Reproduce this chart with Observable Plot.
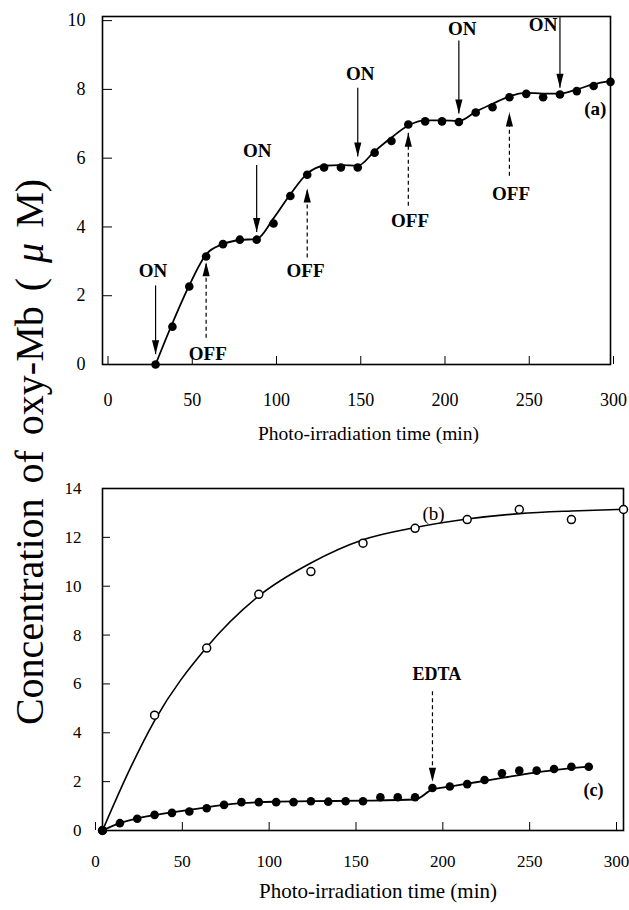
<!DOCTYPE html>
<html><head><meta charset="utf-8">
<script src="https://cdn.jsdelivr.net/npm/d3@7"></script>
<script src="https://cdn.jsdelivr.net/npm/@observablehq/plot@0.6"></script>
<style>
body{margin:0;background:#fff;}
#wrap{position:relative;width:629px;height:910px;font-family:"Liberation Serif",serif;color:#000;}
#topPanel{position:absolute;left:0;top:0;}
#botPanel{position:absolute;left:0;top:450px;}
#ylab{position:absolute;left:29px;top:452px;transform:translate(-50%,-50%) rotate(-90deg);white-space:nowrap;font-size:40px;word-spacing:5px;}
</style></head>
<body><div id="wrap"><div id="topPanel"></div><div id="botPanel"></div><div id="ylab">Concentration of oxy-Mb ( <i>μ</i> M)</div></div>
<script>
// ---------- Panel (a) data ----------
const aTime = [30,40,50,60,70,80,90,100,110,120,130,140,150,160,170,180,190,200,210,220,230,240,250,260,270,280,290,300];
const aConc = [0,1.1,2.27,3.14,3.5,3.63,3.63,4.1,4.9,5.52,5.73,5.73,5.73,6.16,6.5,6.98,7.07,7.07,7.05,7.33,7.48,7.77,7.87,7.77,7.85,7.95,8.1,8.22];
const aFitTime = [30,40,50,60,70,80,90,100,110,120,130,140,150,160,170,180,190,200,210,220,230,240,250,260,270,280,290,300];
const aFitConc = [0,1.2,2.3,3.2,3.5,3.62,3.65,4.25,4.95,5.55,5.78,5.8,5.78,6.2,6.6,6.95,7.1,7.1,7.08,7.35,7.58,7.8,7.9,7.88,7.88,8.0,8.15,8.25];
// ON (light on) and OFF (light off) annotations
const onTime = [30,90,150,210,270];
const onFrom = [2.3,5.8,8.05,9.42,10.1];
const onTo = [0.3,3.85,6.05,7.3,8.05];
const onLabelX = [28.5,90.3,151.5,212,260];
const onLabelY = [2.73,6.22,8.46,9.77,9.88];
const offTime = [60,120,180,240];
const offFrom = [0.78,3.11,4.62,5.49];
const offTo = [2.97,5.12,6.74,7.33];
const offLabelX = [61,119,181,241];
const offLabelY = [0.32,2.73,4.19,4.97];
const aTicksX = [0,50,100,150,200,250,300];
const aTicksY = [0,2,4,6,8,10];

// ---------- Panel (b)/(c) data ----------
const bTime = [0,30,60,90,120,150,180,210,240,270,300];
const bConc = [0,4.72,7.47,9.67,10.6,11.76,12.37,12.73,13.14,12.73,13.14];
const bFitTime = [0,15,30,60,90,120,150,180,210,240,270,300];
const bFitConc = [0,2.4,4.5,7.5,9.6,10.95,11.9,12.4,12.75,12.97,13.08,13.15];
const cTime = [0,10,20,30,40,50,60,70,80,90,100,110,120,130,140,150,160,170,180,190,200,210,220,230,240,250,260,270,280];
const cConc = [0,0.3,0.48,0.64,0.72,0.78,0.91,1.05,1.16,1.16,1.16,1.16,1.2,1.18,1.2,1.2,1.36,1.36,1.36,1.74,1.8,1.9,2.07,2.34,2.45,2.45,2.52,2.61,2.61];
const cFitTime = [0,10,20,30,40,50,60,70,80,90,100,120,150,180,190,200,210,220,230,240,250,260,270,280];
const cFitConc = [0,0.3,0.5,0.63,0.74,0.84,0.95,1.05,1.12,1.16,1.18,1.2,1.22,1.27,1.68,1.8,1.92,2.03,2.15,2.27,2.38,2.47,2.55,2.62];
const edtaTime = [190];
const edtaFrom = [5.7];
const edtaTo = [2.0];
const edtaLabel = ["EDTA"];
const bTicksX = [0,50,100,150,200,250,300];
const bTicksY = [0,2,4,6,8,10,12,14];
const xTitle = "Photo-irradiation time (min)";

const zip = (xs, ys) => xs.map((x, i) => ({x, y: ys[i]}));
const head = {draw(ctx) { ctx.moveTo(0, 0); ctx.lineTo(3.6, 14); ctx.lineTo(-3.6, 14); ctx.closePath(); }};
const font = "Liberation Serif";

// ---------- Top plot ----------
const onArr = onTime.map((t, i) => ({t, y1: onFrom[i], y2: onTo[i], lx: onLabelX[i], ly: onLabelY[i]}));
const offArr = offTime.map((t, i) => ({t, y1: offFrom[i], y2: offTo[i], lx: offLabelX[i], ly: offLabelY[i]}));

const topPlot = Plot.plot({
  width: 629, height: 450,
  marginLeft: 102, marginRight: 19, marginTop: 16, marginBottom: 86,
  style: {fontFamily: font, fontSize: "18px", color: "#000", background: "transparent"},
  x: {domain: [-1.5, 300]},
  y: {domain: [0, 10.12]},
  marks: [
    Plot.frame({stroke: "#000", strokeWidth: 1.6}),
    Plot.axisY(aTicksY, {tickSize: 10, dx: 10, tickPadding: 17, label: null, fontSize: 18}),
    Plot.axisX(aTicksX, {tickSize: 8, dy: -8, tickPadding: 29, dx: 3, label: null, fontSize: 18}),
    Plot.text([xTitle], {frameAnchor: "bottom", dy: 75, dx: 12, text: d => d, fontSize: 19.5}),
    Plot.line(zip(aFitTime, aFitConc), {x: "x", y: "y", curve: "monotone-x", strokeWidth: 1.8, stroke: "#000"}),
    Plot.dot(zip(aTime, aConc), {x: "x", y: "y", r: 4.3, fill: "#000"}),
    Plot.link(onArr, {x1: "t", x2: "t", y1: "y1", y2: "y2", stroke: "#000", strokeWidth: 1.2}),
    Plot.dot(onArr, {x: "t", y: "y2", symbol: head, rotate: 180, fill: "#000", stroke: null}),
    Plot.text(onArr, {x: "lx", y: "ly", text: () => "ON", fontWeight: "bold", fontSize: 19}),
    Plot.link(offArr, {x1: "t", x2: "t", y1: "y1", y2: "y2", stroke: "#000", strokeWidth: 1.2, strokeDasharray: "4,3"}),
    Plot.dot(offArr, {x: "t", y: "y2", symbol: head, fill: "#000", stroke: null}),
    Plot.text(offArr, {x: "lx", y: "ly", text: () => "OFF", fontWeight: "bold", fontSize: 19}),
    Plot.text(["(a)"], {x: 291, y: 7.44, text: d => d, fontWeight: "bold", fontSize: 19})
  ]
});
document.getElementById("topPanel").appendChild(topPlot);

// ---------- Bottom plot ----------
const edta = edtaTime.map((t, i) => ({t, y1: edtaFrom[i], y2: edtaTo[i], label: edtaLabel[i]}));
const botPlot = Plot.plot({
  width: 629, height: 460,
  marginLeft: 102, marginRight: 6, marginTop: 38, marginBottom: 80,
  style: {fontFamily: font, fontSize: "17px", color: "#000", background: "transparent"},
  x: {domain: [0, 300]},
  y: {domain: [0, 14]},
  marks: [
    Plot.frame({stroke: "#000", strokeWidth: 1.6}),
    Plot.axisY(bTicksY, {tickSize: 8, dx: 8, tickPadding: 21, label: null, fontSize: 17}),
    Plot.axisX(bTicksX, {tickSize: 8, dy: -8, tickPadding: 24, dx: -7, label: null, fontSize: 17}),
    Plot.text([xTitle], {frameAnchor: "bottom", dy: 67, dx: 15, text: d => d, fontSize: 21}),
    Plot.line(zip(bFitTime, bFitConc), {x: "x", y: "y", curve: "monotone-x", strokeWidth: 1.6, stroke: "#000"}),
    Plot.dot(zip(bTime, bConc), {x: "x", y: "y", r: 4, fill: "#fff", stroke: "#000", strokeWidth: 1.5}),
    Plot.line(zip(cFitTime, cFitConc), {x: "x", y: "y", curve: "monotone-x", strokeWidth: 1.8, stroke: "#000"}),
    Plot.dot(zip(cTime, cConc), {x: "x", y: "y", r: 4.3, fill: "#000"}),
    Plot.link(edta, {x1: "t", x2: "t", y1: "y1", y2: "y2", stroke: "#000", strokeWidth: 1.2, strokeDasharray: "4,3"}),
    Plot.dot(edta, {x: "t", y: "y2", symbol: head, rotate: 180, fill: "#000", stroke: null}),
    Plot.text(edta, {x: 192.5, y: 6.4, text: "label", fontWeight: "bold", fontSize: 18}),
    Plot.text(["(b)"], {x: 190.6, y: 12.98, text: d => d, fontSize: 19}),
    Plot.text(["(c)"], {x: 282.7, y: 1.63, text: d => d, fontWeight: "bold", fontSize: 18})
  ]
});
document.getElementById("botPanel").appendChild(botPlot);
</script>
</body></html>
